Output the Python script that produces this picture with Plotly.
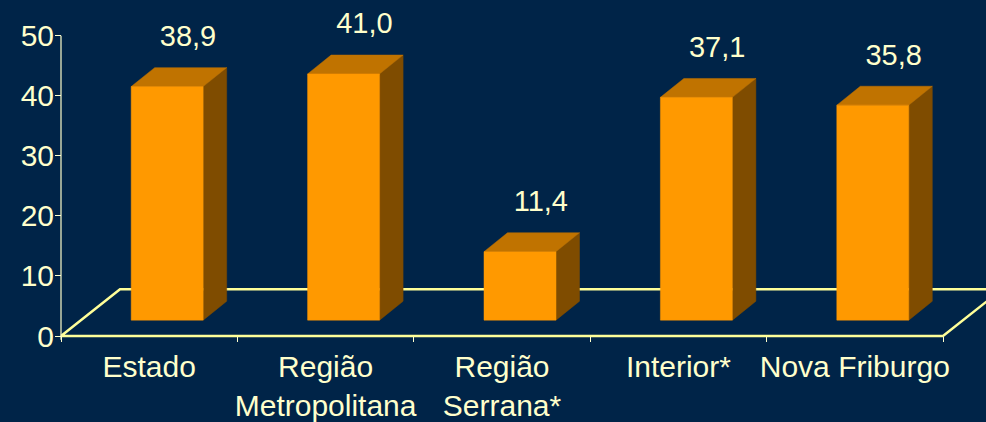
import plotly.graph_objects as go

# Dados
categorias = ['Estado', 'Região<br>Metropolitana', 'Região<br>Serrana*', 'Interior*', 'Nova Friburgo']
valores = [38.9, 41.0, 11.4, 37.1, 35.8]
y_ticks = [0, 10, 20, 30, 40, 50]

FUNDO = '#002448'
TEXTO = '#ffffcc'
PISO = '#ffff99'
FRENTE = '#ff9900'
TOPO = '#c07300'
LADO = '#7f4c00'

# geometria 3D (unidades de categoria / valor)
PX_X = 176.4   # px por categoria
PX_Y = 6.04    # px por unidade
base = 16 / PX_Y
largura = 72 / PX_X
desloc = -18 / PX_X
prof_x = 23.5 / PX_X
prof_y = 19 / PX_Y
piso_x = 59 / PX_X
piso_y = 47 / PX_Y

fig = go.Figure()

# Piso
n = len(categorias)
fig.add_trace(go.Scatter(
    x=[-0.5, n - 0.5, n - 0.5 + piso_x, -0.5 + piso_x, -0.5],
    y=[0, 0, piso_y, piso_y, 0],
    mode='lines', line=dict(color=PISO, width=2.5),
    hoverinfo='skip', showlegend=False
))

# Eixo Y (linha)
fig.add_trace(go.Scatter(
    x=[-0.5, -0.5], y=[-0.6, y_ticks[-1]],
    mode='lines', line=dict(color=TEXTO, width=1.2),
    hoverinfo='skip', showlegend=False
))

# Barras 3D
fx, fy, tx, ty, sx, sy = [], [], [], [], [], []
for i, v in enumerate(valores):
    xl = i + desloc
    xr = xl + largura
    yt = base + v
    fx += [xl, xr, xr, xl, xl, None]
    fy += [base, base, yt, yt, base, None]
    tx += [xl, xr, xr + prof_x, xl + prof_x, xl, None]
    ty += [yt, yt, yt + prof_y, yt + prof_y, yt, None]
    sx += [xr, xr + prof_x, xr + prof_x, xr, xr, None]
    sy += [base, base + prof_y, yt + prof_y, yt, base, None]

for xs, ys, cor in [(sx, sy, LADO), (tx, ty, TOPO), (fx, fy, FRENTE)]:
    fig.add_trace(go.Scatter(
        x=xs, y=ys, mode='lines', fill='toself', fillcolor=cor,
        line=dict(color=cor, width=0.5),
        hoverinfo='skip', showlegend=False
    ))

# Rótulos de valor
fig.add_trace(go.Scatter(
    x=[i + 0.22 for i in range(n)],
    y=[v + 10.6 for v in valores],
    mode='text',
    text=[f'{v:.1f}'.replace('.', ',') for v in valores],
    textfont=dict(size=29, color=TEXTO, family='Arial, Liberation Sans'),
    cliponaxis=False, hoverinfo='skip', showlegend=False
))

fig.update_layout(
    width=986, height=422,
    margin=dict(l=55, r=0, t=0, b=78),
    paper_bgcolor=FUNDO, plot_bgcolor=FUNDO,
    font=dict(family='Arial, Liberation Sans', size=30, color=TEXTO),
    xaxis=dict(
        range=[-0.5 - 6 / PX_X, -0.5 + 925 / PX_X],
        tickmode='array', tickvals=list(range(n)), ticktext=categorias,
        ticks='', showgrid=False, zeroline=False, showline=False,
        tickfont=dict(size=30, color=TEXTO), ticklabelstandoff=4,
        minor=dict(tickmode='array', tickvals=[i - 0.5 for i in range(n + 1)],
                   ticks='inside', ticklen=5, tickcolor=TEXTO, tickwidth=1,
                   showgrid=False),
    ),
    yaxis=dict(
        range=[-6 / PX_Y, 338 / PX_Y],
        tickmode='array', tickvals=y_ticks,
        ticks='inside', ticklen=6, tickcolor=TEXTO, tickwidth=1,
        showgrid=False, zeroline=False, showline=False,
        tickfont=dict(size=30, color=TEXTO),
    ),
)

fig.write_html("out.html", config={'displayModeBar': False},
               post_script="document.body.style.margin='0';")
